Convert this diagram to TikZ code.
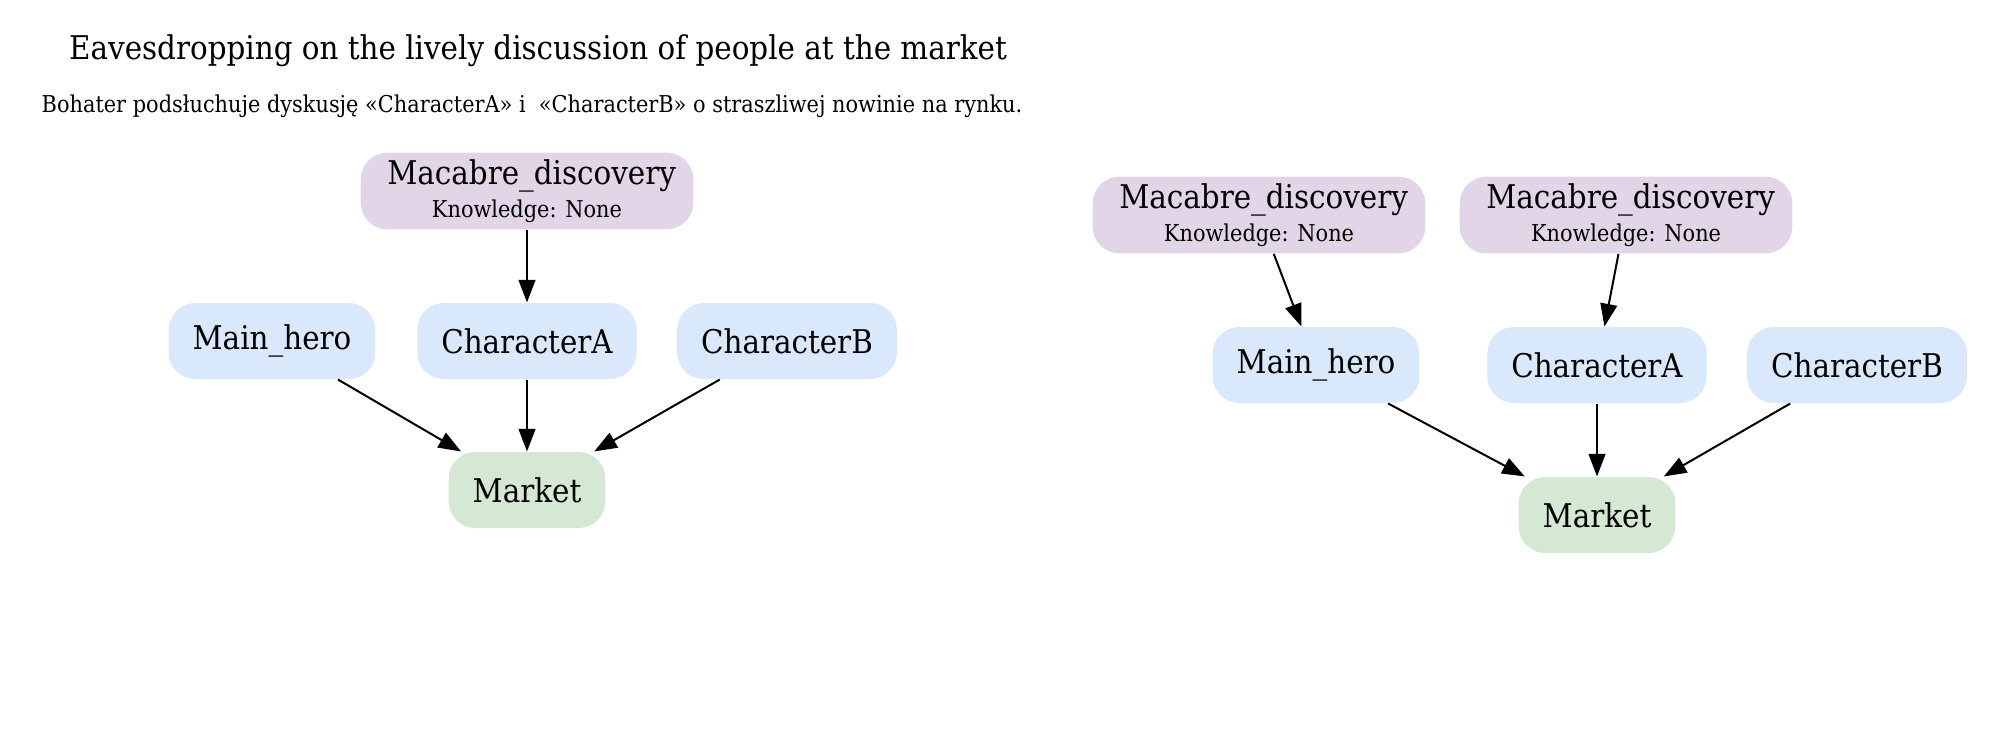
\documentclass[tikz,border=0pt]{standalone}
\usepackage{fontspec}
\setmainfont{DejaVu Serif Condensed}
\usetikzlibrary{arrows.meta}
\definecolor{eventlilac}{HTML}{E1D5E7}
\definecolor{personblue}{HTML}{DAE8FC}
\definecolor{placegreen}{HTML}{D5E8D4}
\begin{document}
\begin{tikzpicture}[x=0.375pt,y=-0.375pt,
    box/.style={rounded corners=10pt, inner xsep=9pt, minimum height=28.5pt,
      font=\fontsize{12.25}{14}\selectfont},
    person/.style={box, fill=personblue},
    place/.style={box, fill=placegreen},
    event/.style={box, fill=eventlilac, inner xsep=6.5pt, inner ysep=2.5pt, align=center},
    link/.style={-{Triangle[length=8.5pt,width=6.3pt]}, line width=0.75pt}]
  \useasboundingbox (0,0) rectangle (1998,731);
  \node (title) at (538,51) {\fontsize{12.25}{14}\selectfont Eavesdropping on the lively discussion of people at the market};
  \node (subtitle) at (532,106) {\fontsize{8.7}{10}\selectfont Bohater podsłuchuje dyskusję «CharacterA» i\ \ «CharacterB» o straszliwej nowinie na rynku.};
  % first scene
  \node[event] (discovery1) at (527,191) {\ Macabre\_discovery\\[-1.5pt]{\fontsize{8.7}{10}\selectfont Knowledge: None}};
  \node[person] (hero1) at (272,341) {Main\_hero};
  \node[person] (charA1) at (527,341) {CharacterA};
  \node[person] (charB1) at (787,341) {CharacterB};
  \node[place] (market1) at (527,490) {Market};
  \draw[link] (discovery1) -- (charA1);
  \draw[link] (hero1) -- (market1);
  \draw[link] (charA1) -- (market1);
  \draw[link] (charB1) -- (market1);
  % second scene
  \node[event] (discovery2) at (1259,215) {\ Macabre\_discovery\\[-1.5pt]{\fontsize{8.7}{10}\selectfont Knowledge: None}};
  \node[event] (discovery3) at (1626,215) {\ Macabre\_discovery\\[-1.5pt]{\fontsize{8.7}{10}\selectfont Knowledge: None}};
  \node[person] (hero2) at (1316,365) {Main\_hero};
  \node[person] (charA2) at (1597,365) {CharacterA};
  \node[person] (charB2) at (1857,365) {CharacterB};
  \node[place] (market2) at (1597,515) {Market};
  \draw[link] (discovery2) -- (hero2);
  \draw[link] (discovery3) -- (charA2);
  \draw[link] (hero2) -- (market2);
  \draw[link] (charA2) -- (market2);
  \draw[link] (charB2) -- (market2);
\end{tikzpicture}
\end{document}
